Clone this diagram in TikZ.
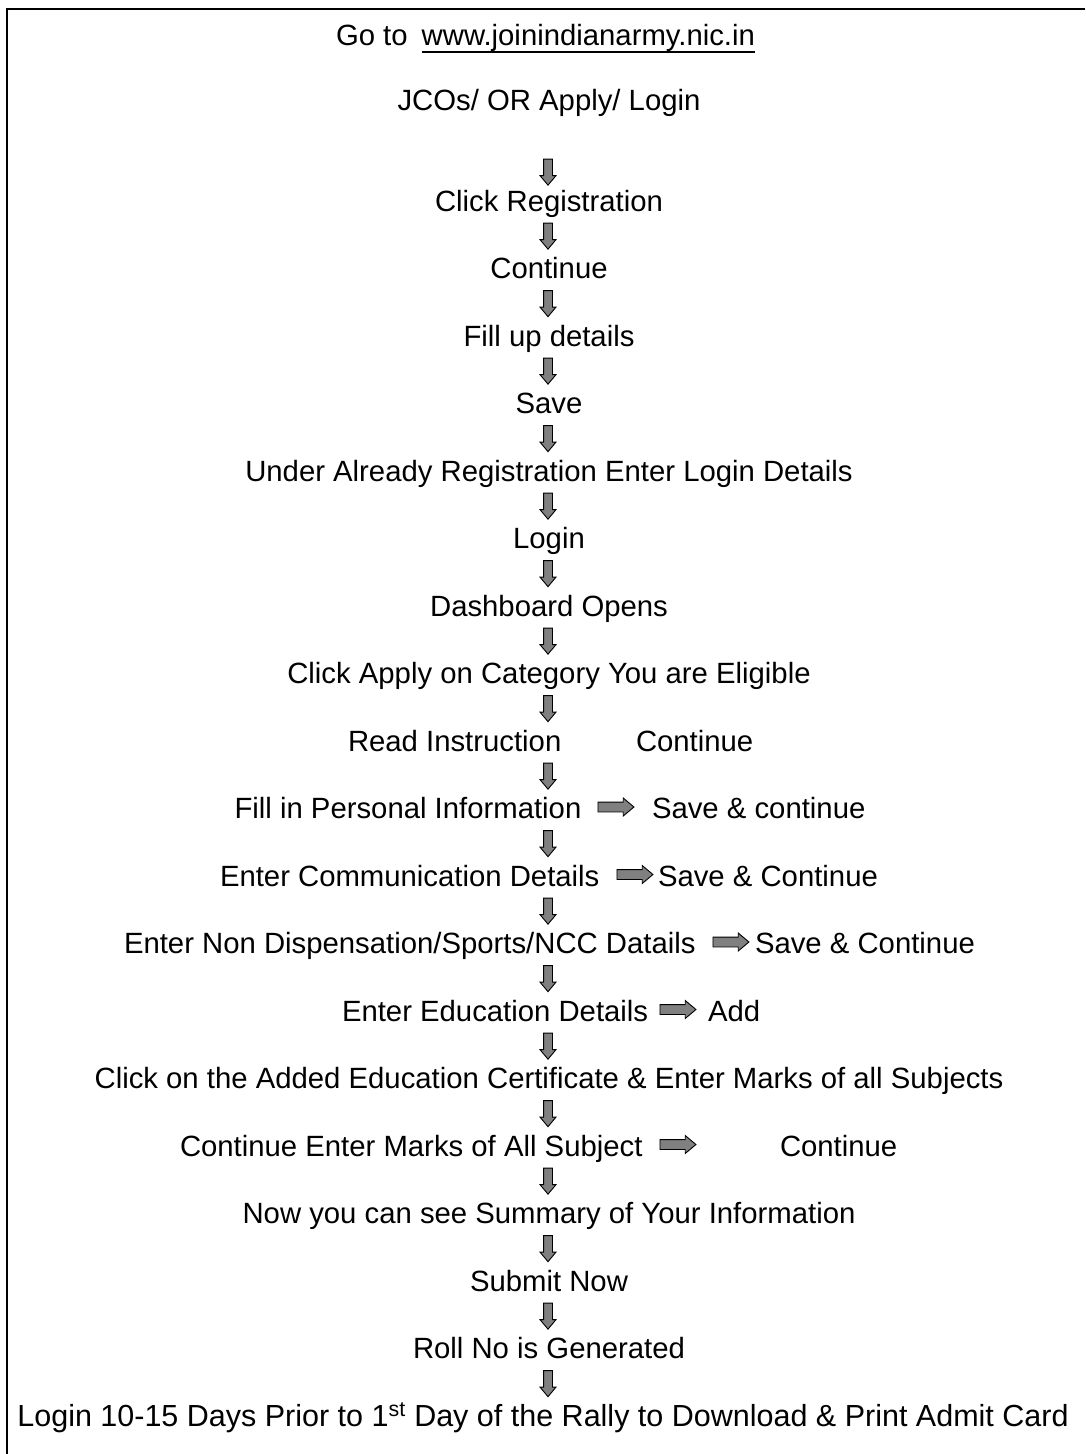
\documentclass[tikz,border=0pt]{standalone}
\usepackage{fontspec}
\setmainfont{Liberation Sans}
\usetikzlibrary{shapes.arrows}
\definecolor{arrowgray}{HTML}{808080}
\newcommand\mainfs{\fontsize{29.3pt}{35pt}\selectfont}
\newcommand\largerfs{\fontsize{30.5pt}{36pt}\selectfont}
\tikzset{
  txt/.style={font=\mainfs, inner sep=0pt, outer sep=0pt, anchor=base},
  txtl/.style={txt, anchor=base west},
  darr/.style={single arrow, draw=black, fill=arrowgray, line width=0.9pt,
    single arrow head extend=3.5pt, single arrow tip angle=80,
    inner sep=4pt, outer sep=0pt, minimum height=26pt, minimum width=0pt,
    shape border rotate=270},
  rarr/.style={darr, shape border rotate=0, minimum height=36pt,
    inner sep=4.5pt, single arrow head extend=4pt},
  frame/.style={line width=2pt, black}
}
\begin{document}
\begin{tikzpicture}[x=1pt, y=-1pt]
\useasboundingbox (0,0) rectangle (1085,1454);
\draw[frame] (1085,9) -- (7,9) -- (7,1454);

\node[txtl] (goto) at (336,45) {Go to};
\node[txtl] (url) at (421.7,45) {www.joinindianarmy.nic.in};
\draw[line width=1.8pt] ([yshift=-7pt]url.base west) -- ([yshift=-7pt]url.base east);
\node[txt] (jco) at (549,110) {JCOs/ OR Apply/ Login};

\node[darr] (a0) at (548,169.5) {};
\node[txt] (reg) at (549,211) {Click Registration};
\node[darr] (a1) at (548,233.5) {};
\node[txt] (cont1) at (549,278.5) {Continue};
\node[darr] (a2) at (548,301) {};
\node[txt] (fillup) at (549,346) {Fill up details};
\node[darr] (a3) at (548,368.5) {};
\node[txt] (save) at (549,413.5) {Save};
\node[darr] (a4) at (548,436) {};
\node[txt] (under) at (549,481) {Under Already Registration Enter Login Details};
\node[darr] (a5) at (548,503.5) {};
\node[txt] (login) at (549,548.5) {Login};
\node[darr] (a6) at (548,571) {};
\node[txt] (dash) at (549,616) {Dashboard Opens};
\node[darr] (a7) at (548,638.5) {};
\node[txt] (apply) at (549,683.5) {Click Apply on Category You are Eligible};
\node[darr] (a8) at (548,706) {};
\node[txtl] (read) at (348,751) {Read Instruction};
\node[txtl] (cont2) at (636,751) {Continue};
\node[darr] (a9) at (548,773.5) {};
\node[txtl] (pers) at (234.5,818.5) {Fill in Personal Information};
\node[rarr] (r1) at (613,807) {};
\node[txtl] (sc1) at (652,818.5) {Save \& continue};
\node[darr] (a10) at (548,841) {};
\node[txtl] (comm) at (220,886) {Enter Communication Details};
\node[rarr] (r2) at (632,874.5) {};
\node[txtl] (sc2) at (658,886) {Save \& Continue};
\node[darr] (a11) at (548,908.5) {};
\node[txtl] (non) at (124,953.5) {Enter Non Dispensation/Sports/NCC Datails};
\node[rarr] (r3) at (728,942) {};
\node[txtl] (sc3) at (755,953.5) {Save \& Continue};
\node[darr] (a12) at (548,976) {};
\node[txtl] (edu) at (342,1021) {Enter Education Details};
\node[rarr] (r4) at (675,1009.5) {};
\node[txtl] (add) at (708,1021) {Add};
\node[darr] (a13) at (548,1043.5) {};
\node[txt] (added) at (549,1088.5) {Click on the Added Education Certificate \& Enter Marks of all Subjects};
\node[darr] (a14) at (548,1111) {};
\node[txtl] (marks) at (180,1156) {Continue Enter Marks of All Subject};
\node[rarr] (r5) at (675,1144.5) {};
\node[txtl] (cont3) at (780,1156) {Continue};
\node[darr] (a15) at (548,1178.5) {};
\node[txt] (summ) at (549,1223.5) {Now you can see Summary of Your Information};
\node[darr] (a16) at (548,1246) {};
\node[txt] (submit) at (549,1291) {Submit Now};
\node[darr] (a17) at (548,1313.5) {};
\node[txt] (roll) at (549,1358.5) {Roll No is Generated};
\node[darr] (a18) at (548,1381) {};
\node[txt, font=\largerfs] (last) at (543,1426) {Login 10-15 Days Prior to 1\textsuperscript{st} Day of the Rally to Download \& Print Admit Card};
\end{tikzpicture}
\end{document}
